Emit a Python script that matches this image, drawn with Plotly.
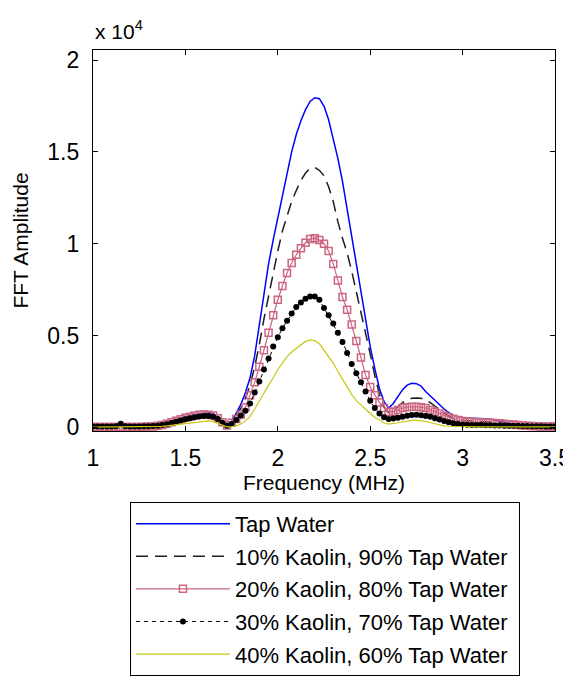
import numpy as np
import plotly.graph_objects as go

# Frequency grid (MHz)
freq = np.round(np.arange(1.0, 3.5001, 0.025), 3)

# FFT amplitudes in units of 1e4
tap_water = [0.004,0.004,0.004,0.004,0.005,0.005,0.005,0.005,0.005,0.005,0.005,0.006,0.006,0.007,0.01,
             0.015,0.022,0.03,0.04,0.048,0.056,0.063,0.069,0.074,0.077,0.078,0.074,0.06,0.035,
             0.012,0.03,0.075,0.125,0.19,0.27,0.39,0.55,0.72,0.89,1.02,1.145,1.27,1.395,1.50,1.595,1.67,1.73,1.775,1.795,
             1.79,1.75,1.675,1.57,1.465,1.34,1.19,1.05,0.905,0.745,0.60,0.44,0.32,0.21,0.14,0.105,
             0.13,0.17,0.205,0.23,0.24,0.238,0.225,0.195,0.17,0.145,0.12,0.1,0.08,0.065,0.057,0.052,
             0.05,0.05,0.05,0.049,0.047,0.044,0.04,0.036,0.03,0.024,0.018,0.014,0.012,0.01,0.01,0.009,0.009,0.008,0.008,0.008]

kaolin10 = [0.004,0.004,0.004,0.004,0.004,0.004,0.005,0.005,0.005,0.005,0.005,0.005,0.006,0.007,0.009,
            0.013,0.02,0.028,0.037,0.046,0.054,0.061,0.067,0.071,0.073,0.073,0.069,0.055,0.032,
            0.012,0.03,0.065,0.105,0.16,0.23,0.33,0.45,0.59,0.72,0.84,0.96,1.07,1.15,1.23,1.29,1.345,1.385,1.41,1.415,
            1.40,1.37,1.31,1.23,1.12,1.03,0.95,0.85,0.74,0.62,0.52,0.40,0.28,0.18,0.11,0.08,
            0.09,0.115,0.135,0.15,0.158,0.16,0.158,0.15,0.135,0.115,0.095,0.075,0.06,0.05,0.042,0.038,
            0.036,0.035,0.034,0.033,0.031,0.029,0.027,0.025,0.022,0.018,0.015,0.012,0.01,0.009,0.008,0.008,0.007,0.007,0.007,0.007]

kaolin20 = [0.002,0.002,0.002,0.002,0.002,0.002,0.002,0.002,0.002,0.002,0.002,0.003,0.004,0.005,0.008,
            0.013,0.02,0.028,0.036,0.044,0.052,0.058,0.064,0.068,0.07,0.069,0.064,0.05,0.028,
            0.01,0.025,0.045,0.07,0.11,0.175,0.245,0.33,0.42,0.515,0.61,0.695,0.77,0.84,0.895,0.94,0.975,1.005,1.025,1.03,
            1.02,1.0,0.96,0.89,0.80,0.71,0.64,0.56,0.47,0.38,0.285,0.22,0.175,0.135,0.105,0.085,
            0.085,0.095,0.105,0.11,0.112,0.112,0.11,0.105,0.095,0.085,0.075,0.063,0.055,0.047,0.04,0.035,
            0.032,0.03,0.028,0.027,0.026,0.025,0.024,0.022,0.02,0.017,0.015,0.012,0.01,0.008,0.007,0.006,0.005,0.005,0.004,0.004]

kaolin30 = [0.005,0.005,0.005,0.005,0.005,0.006,0.02,0.006,0.005,0.005,0.005,0.006,0.006,0.007,0.009,
            0.012,0.017,0.023,0.03,0.037,0.044,0.05,0.055,0.059,0.062,0.062,0.058,0.046,0.025,
            0.008,0.018,0.04,0.065,0.09,0.13,0.19,0.25,0.315,0.375,0.44,0.49,0.54,0.58,0.62,0.655,0.68,0.70,0.712,0.712,
            0.695,0.65,0.61,0.565,0.515,0.465,0.405,0.345,0.295,0.245,0.195,0.145,0.105,0.075,0.055,0.045,
            0.048,0.052,0.058,0.063,0.067,0.068,0.066,0.062,0.057,0.05,0.043,0.035,0.028,0.022,0.018,0.015,
            0.014,0.013,0.012,0.012,0.011,0.011,0.01,0.01,0.009,0.009,0.008,0.008,0.007,0.007,0.006,0.006,0.006,0.005,0.005,0.005]

kaolin40 = [0.001,0.001,0.001,0.001,0.001,0.001,0.001,0.001,0.001,0.001,0.001,0.001,0.001,0.001,0.003,
            0.005,0.008,0.011,0.015,0.019,0.023,0.027,0.03,0.033,0.035,0.035,0.032,0.024,0.012,
            0.003,0.003,0.008,0.018,0.035,0.06,0.1,0.145,0.19,0.23,0.27,0.315,0.35,0.385,0.41,0.43,0.45,0.468,0.476,0.472,
            0.455,0.418,0.385,0.35,0.305,0.262,0.22,0.178,0.145,0.12,0.1,0.075,0.055,0.04,0.025,0.018,
            0.02,0.025,0.03,0.035,0.038,0.038,0.036,0.032,0.025,0.018,0.012,0.008,0.006,0.005,0.004,0.004,
            0.003,0.003,0.003,0.003,0.003,0.003,0.003,0.003,0.003,0.003,0.003,0.003,0.003,0.003,0.003,0.003,0.003,0.003,0.003,0.003]

series_names = ["Tap Water", "10% Kaolin, 90% Tap Water", "20% Kaolin, 80% Tap Water",
                "30% Kaolin, 70% Tap Water", "40% Kaolin, 60% Tap Water"]

x_ticks = [1, 1.5, 2, 2.5, 3, 3.5]
x_ticktext = ["1", "1.5", "2", "2.5", "3", "3.5"]
y_ticks = [0, 0.5, 1, 1.5, 2]
y_ticktext = ["0", "0.5", "1", "1.5", "2"]

PINK = "rgb(204,102,128)"
YELLOW = "rgb(200,200,20)"
PAD = "&nbsp;"

fig = go.Figure()
fig.add_trace(go.Scatter(x=freq, y=tap_water, name=series_names[0] + PAD, mode="lines", legendgroup="a",
                         line=dict(color="rgb(0,0,255)", width=1.5)))
fig.add_trace(go.Scatter(x=freq, y=kaolin10, name=series_names[1] + PAD, mode="lines", legendgroup="b",
                         line=dict(color="rgb(30,30,30)", width=1.5, dash="12px,7px")))
fig.add_trace(go.Scatter(x=freq, y=kaolin20, name=series_names[2] + PAD, mode="lines+markers", legendgroup="c",
                         line=dict(color=PINK, width=1.2),
                         marker=dict(symbol="square-open", size=7, color=PINK, line=dict(width=1.5, color=PINK))))
fig.add_trace(go.Scatter(x=freq, y=kaolin30, name=series_names[3] + PAD, mode="lines+markers", legendgroup="d",
                         line=dict(color="black", width=1, dash="4px,4px"),
                         marker=dict(symbol="circle", size=6, color="black")))
fig.add_trace(go.Scatter(x=freq, y=kaolin40, name=series_names[4] + PAD, mode="lines", legendgroup="e",
                         line=dict(color=YELLOW, width=1.2)))

FONT = "Arial, Liberation Sans, sans-serif"
fig.update_layout(
    width=571, height=676,
    margin=dict(l=85, r=24, t=42, b=253, autoexpand=False),
    plot_bgcolor="white", paper_bgcolor="white",
    font=dict(family=FONT, size=21, color="black"),
    showlegend=True,
    legend=dict(x=0.08, y=-0.186, xanchor="left", yanchor="top",
                bordercolor="black", borderwidth=1, bgcolor="white",
                font=dict(family=FONT, size=22, color="black"),
                itemwidth=94, tracegroupgap=1),
    xaxis=dict(range=[1, 3.5], tickmode="array", tickvals=x_ticks, ticktext=x_ticktext,
               ticks="inside", ticklen=5, tickcolor="black", showline=True, linecolor="black",
               linewidth=1.2, mirror="ticks", showgrid=False, zeroline=False, automargin=False,
               tickfont=dict(size=23), ticklabelstandoff=6,
               title=dict(text="Frequency (MHz)", font=dict(size=21), standoff=4)),
    yaxis=dict(range=[-0.02, 2.055], tickmode="array", tickvals=y_ticks, ticktext=y_ticktext,
               ticks="inside", ticklen=5, tickcolor="black", showline=True, linecolor="black",
               linewidth=1.2, mirror="ticks", showgrid=False, zeroline=False, automargin=False,
               tickfont=dict(size=23), ticklabelstandoff=8,
               title=dict(text="FFT Amplitude", font=dict(size=21), standoff=12)),
    annotations=[dict(x=0, y=1, xref="paper", yref="paper", xanchor="left", yanchor="bottom",
                      text="x 10<sup>4</sup>", showarrow=False, yshift=5,
                      font=dict(family=FONT, size=21, color="black"))],
)

fig.write_html("out.html")
